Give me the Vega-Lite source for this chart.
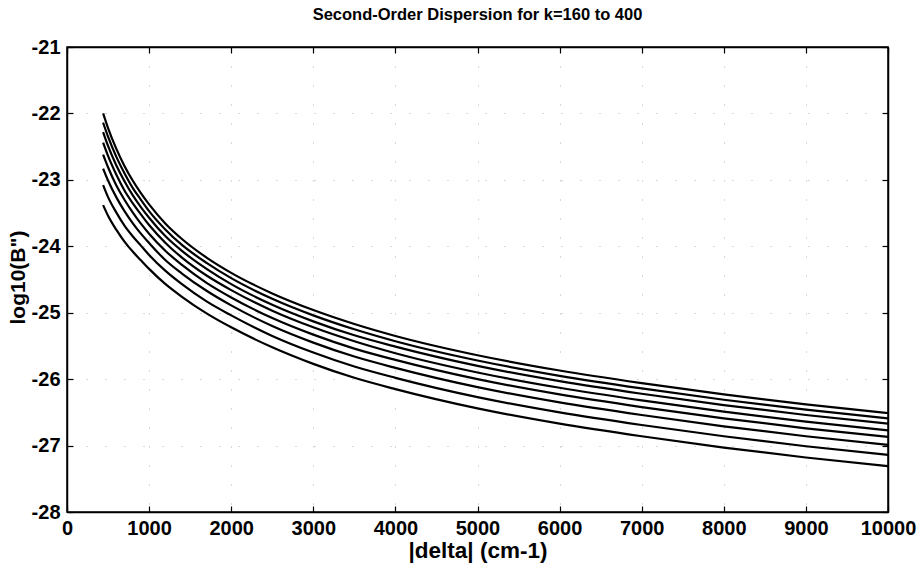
{
  "$schema": "https://vega.github.io/schema/vega-lite/v6.json",
  "width": 821,
  "height": 465,
  "autosize": {"type": "none"},
  "padding": {"left": 67, "top": 47, "right": 33, "bottom": 52},
  "background": "white",
  "title": {
    "text": "Second-Order Dispersion for k=160 to 400",
    "anchor": "middle",
    "font": "Liberation Sans",
    "fontSize": 16.5,
    "fontWeight": "bold",
    "color": "#000",
    "offset": 14
  },
  "config": {
    "view": {"stroke": "#000", "strokeWidth": 1.5},
    "axis": {
      "domainColor": "#000",
      "domainWidth": 1.5,
      "tickColor": "#000",
      "tickWidth": 1.2,
      "labelFont": "Liberation Sans",
      "labelFontSize": 20,
      "labelFontWeight": "bold",
      "labelColor": "#000",
      "titleFont": "Liberation Sans",
      "titleFontSize": 22.5,
      "titleFontWeight": "bold",
      "titleColor": "#000"
    }
  },
  "datasets": {
    "curves": [
      {"x": 440, "k": 400, "y": -22.00}, {"x": 440, "k": 366, "y": -22.14}, {"x": 440, "k": 331, "y": -22.28}, {"x": 440, "k": 297, "y": -22.44}, {"x": 440, "k": 263, "y": -22.62}, {"x": 440, "k": 229, "y": -22.83}, {"x": 440, "k": 194, "y": -23.08}, {"x": 440, "k": 160, "y": -23.38},
      {"x": 500, "k": 400, "y": -22.22}, {"x": 500, "k": 366, "y": -22.35}, {"x": 500, "k": 331, "y": -22.49}, {"x": 500, "k": 297, "y": -22.64}, {"x": 500, "k": 263, "y": -22.81}, {"x": 500, "k": 229, "y": -23.01}, {"x": 500, "k": 194, "y": -23.26}, {"x": 500, "k": 160, "y": -23.54},
      {"x": 600, "k": 400, "y": -22.53}, {"x": 600, "k": 366, "y": -22.65}, {"x": 600, "k": 331, "y": -22.78}, {"x": 600, "k": 297, "y": -22.92}, {"x": 600, "k": 263, "y": -23.08}, {"x": 600, "k": 229, "y": -23.26}, {"x": 600, "k": 194, "y": -23.49}, {"x": 600, "k": 160, "y": -23.75},
      {"x": 700, "k": 400, "y": -22.79}, {"x": 700, "k": 366, "y": -22.90}, {"x": 700, "k": 331, "y": -23.02}, {"x": 700, "k": 297, "y": -23.16}, {"x": 700, "k": 263, "y": -23.30}, {"x": 700, "k": 229, "y": -23.47}, {"x": 700, "k": 194, "y": -23.69}, {"x": 700, "k": 160, "y": -23.93},
      {"x": 800, "k": 400, "y": -23.01}, {"x": 800, "k": 366, "y": -23.12}, {"x": 800, "k": 331, "y": -23.23}, {"x": 800, "k": 297, "y": -23.35}, {"x": 800, "k": 263, "y": -23.49}, {"x": 800, "k": 229, "y": -23.65}, {"x": 800, "k": 194, "y": -23.85}, {"x": 800, "k": 160, "y": -24.08},
      {"x": 900, "k": 400, "y": -23.20}, {"x": 900, "k": 366, "y": -23.30}, {"x": 900, "k": 331, "y": -23.41}, {"x": 900, "k": 297, "y": -23.52}, {"x": 900, "k": 263, "y": -23.66}, {"x": 900, "k": 229, "y": -23.81}, {"x": 900, "k": 194, "y": -23.99}, {"x": 900, "k": 160, "y": -24.21},
      {"x": 1000, "k": 400, "y": -23.37}, {"x": 1000, "k": 366, "y": -23.47}, {"x": 1000, "k": 331, "y": -23.57}, {"x": 1000, "k": 297, "y": -23.68}, {"x": 1000, "k": 263, "y": -23.81}, {"x": 1000, "k": 229, "y": -23.95}, {"x": 1000, "k": 194, "y": -24.13}, {"x": 1000, "k": 160, "y": -24.34},
      {"x": 1200, "k": 400, "y": -23.66}, {"x": 1200, "k": 366, "y": -23.75}, {"x": 1200, "k": 331, "y": -23.85}, {"x": 1200, "k": 297, "y": -23.95}, {"x": 1200, "k": 263, "y": -24.07}, {"x": 1200, "k": 229, "y": -24.21}, {"x": 1200, "k": 194, "y": -24.37}, {"x": 1200, "k": 160, "y": -24.57},
      {"x": 1400, "k": 400, "y": -23.89}, {"x": 1400, "k": 366, "y": -23.98}, {"x": 1400, "k": 331, "y": -24.07}, {"x": 1400, "k": 297, "y": -24.17}, {"x": 1400, "k": 263, "y": -24.28}, {"x": 1400, "k": 229, "y": -24.41}, {"x": 1400, "k": 194, "y": -24.57}, {"x": 1400, "k": 160, "y": -24.76},
      {"x": 1700, "k": 400, "y": -24.17}, {"x": 1700, "k": 366, "y": -24.25}, {"x": 1700, "k": 331, "y": -24.34}, {"x": 1700, "k": 297, "y": -24.44}, {"x": 1700, "k": 263, "y": -24.55}, {"x": 1700, "k": 229, "y": -24.67}, {"x": 1700, "k": 194, "y": -24.83}, {"x": 1700, "k": 160, "y": -25.01},
      {"x": 2000, "k": 400, "y": -24.40}, {"x": 2000, "k": 366, "y": -24.48}, {"x": 2000, "k": 331, "y": -24.57}, {"x": 2000, "k": 297, "y": -24.66}, {"x": 2000, "k": 263, "y": -24.77}, {"x": 2000, "k": 229, "y": -24.89}, {"x": 2000, "k": 194, "y": -25.04}, {"x": 2000, "k": 160, "y": -25.22},
      {"x": 2500, "k": 400, "y": -24.71}, {"x": 2500, "k": 366, "y": -24.79}, {"x": 2500, "k": 331, "y": -24.88}, {"x": 2500, "k": 297, "y": -24.97}, {"x": 2500, "k": 263, "y": -25.08}, {"x": 2500, "k": 229, "y": -25.20}, {"x": 2500, "k": 194, "y": -25.35}, {"x": 2500, "k": 160, "y": -25.52},
      {"x": 3000, "k": 400, "y": -24.96}, {"x": 3000, "k": 366, "y": -25.04}, {"x": 3000, "k": 331, "y": -25.13}, {"x": 3000, "k": 297, "y": -25.22}, {"x": 3000, "k": 263, "y": -25.33}, {"x": 3000, "k": 229, "y": -25.45}, {"x": 3000, "k": 194, "y": -25.60}, {"x": 3000, "k": 160, "y": -25.77},
      {"x": 3500, "k": 400, "y": -25.17}, {"x": 3500, "k": 366, "y": -25.25}, {"x": 3500, "k": 331, "y": -25.34}, {"x": 3500, "k": 297, "y": -25.43}, {"x": 3500, "k": 263, "y": -25.54}, {"x": 3500, "k": 229, "y": -25.66}, {"x": 3500, "k": 194, "y": -25.81}, {"x": 3500, "k": 160, "y": -25.98},
      {"x": 4000, "k": 400, "y": -25.35}, {"x": 4000, "k": 366, "y": -25.43}, {"x": 4000, "k": 331, "y": -25.51}, {"x": 4000, "k": 297, "y": -25.61}, {"x": 4000, "k": 263, "y": -25.71}, {"x": 4000, "k": 229, "y": -25.83}, {"x": 4000, "k": 194, "y": -25.98}, {"x": 4000, "k": 160, "y": -26.15},
      {"x": 5000, "k": 400, "y": -25.64}, {"x": 5000, "k": 366, "y": -25.72}, {"x": 5000, "k": 331, "y": -25.80}, {"x": 5000, "k": 297, "y": -25.90}, {"x": 5000, "k": 263, "y": -26.00}, {"x": 5000, "k": 229, "y": -26.12}, {"x": 5000, "k": 194, "y": -26.27}, {"x": 5000, "k": 160, "y": -26.44},
      {"x": 6000, "k": 400, "y": -25.87}, {"x": 6000, "k": 366, "y": -25.95}, {"x": 6000, "k": 331, "y": -26.03}, {"x": 6000, "k": 297, "y": -26.13}, {"x": 6000, "k": 263, "y": -26.23}, {"x": 6000, "k": 229, "y": -26.35}, {"x": 6000, "k": 194, "y": -26.50}, {"x": 6000, "k": 160, "y": -26.67},
      {"x": 7000, "k": 400, "y": -26.06}, {"x": 7000, "k": 366, "y": -26.14}, {"x": 7000, "k": 331, "y": -26.22}, {"x": 7000, "k": 297, "y": -26.32}, {"x": 7000, "k": 263, "y": -26.42}, {"x": 7000, "k": 229, "y": -26.54}, {"x": 7000, "k": 194, "y": -26.69}, {"x": 7000, "k": 160, "y": -26.86},
      {"x": 8000, "k": 400, "y": -26.23}, {"x": 8000, "k": 366, "y": -26.31}, {"x": 8000, "k": 331, "y": -26.39}, {"x": 8000, "k": 297, "y": -26.49}, {"x": 8000, "k": 263, "y": -26.59}, {"x": 8000, "k": 229, "y": -26.71}, {"x": 8000, "k": 194, "y": -26.86}, {"x": 8000, "k": 160, "y": -27.03},
      {"x": 9000, "k": 400, "y": -26.38}, {"x": 9000, "k": 366, "y": -26.46}, {"x": 9000, "k": 331, "y": -26.54}, {"x": 9000, "k": 297, "y": -26.64}, {"x": 9000, "k": 263, "y": -26.74}, {"x": 9000, "k": 229, "y": -26.86}, {"x": 9000, "k": 194, "y": -27.01}, {"x": 9000, "k": 160, "y": -27.18},
      {"x": 10000, "k": 400, "y": -26.51}, {"x": 10000, "k": 366, "y": -26.59}, {"x": 10000, "k": 331, "y": -26.67}, {"x": 10000, "k": 297, "y": -26.77}, {"x": 10000, "k": 263, "y": -26.87}, {"x": 10000, "k": 229, "y": -26.99}, {"x": 10000, "k": 194, "y": -27.14}, {"x": 10000, "k": 160, "y": -27.31}
    ]
  },
  "data": {"name": "curves"},
  "layer": [
    {
      "mark": {"type": "line", "color": "#000", "strokeWidth": 2.2, "interpolate": "monotone"},
      "encoding": {
        "x": {
          "field": "x", "type": "quantitative",
          "scale": {"domain": [0, 10000], "nice": false, "zero": false},
          "axis": {
            "title": "|delta| (cm-1)", "titleY": 38, "titleBaseline": "middle",
            "values": [0, 1000, 2000, 3000, 4000, 5000, 6000, 7000, 8000, 9000, 10000],
            "labelExpr": "toString(datum.value)", "tickSize": -6, "labelPadding": 12, "labelFlush": false,
            "grid": true, "gridColor": "#000", "gridOpacity": 0.3, "gridDash": [1, 18]
          }
        },
        "y": {
          "field": "y", "type": "quantitative",
          "scale": {"domain": [-28, -21], "nice": false, "zero": false},
          "axis": {
            "title": "log10(B\")", "titleX": -49, "titleY": 230, "titleBaseline": "middle", "titleFontSize": 21,
            "values": [-28, -27, -26, -25, -24, -23, -22, -21],
            "labelExpr": "toString(datum.value)", "tickSize": -6, "labelPadding": 13,
            "grid": true, "gridColor": "#000", "gridOpacity": 0.3, "gridDash": [1, 18]
          }
        },
        "detail": {"field": "k", "type": "nominal"}
      }
    },
    {
      "mark": {"type": "line", "opacity": 0},
      "encoding": {
        "x": {
          "field": "x", "type": "quantitative",
          "scale": {"domain": [0, 10000], "nice": false, "zero": false},
          "axis": {"orient": "top", "title": null, "labels": false, "grid": false,
            "values": [0, 1000, 2000, 3000, 4000, 5000, 6000, 7000, 8000, 9000, 10000], "tickSize": -6}
        },
        "y": {
          "field": "y", "type": "quantitative",
          "scale": {"domain": [-28, -21], "nice": false, "zero": false},
          "axis": {"orient": "right", "title": null, "labels": false, "grid": false,
            "values": [-28, -27, -26, -25, -24, -23, -22, -21], "tickSize": -6}
        },
        "detail": {"field": "k", "type": "nominal"}
      }
    }
  ],
  "resolve": {"axis": {"x": "independent", "y": "independent"}}
}
